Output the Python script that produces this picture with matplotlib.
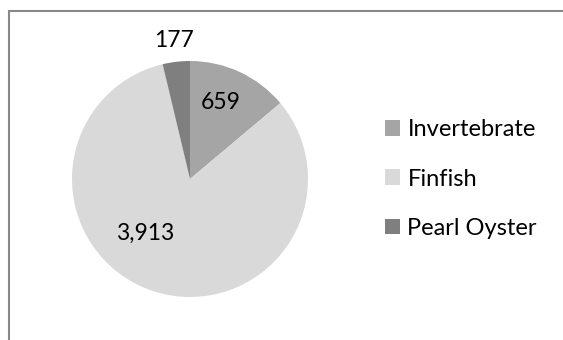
import matplotlib

matplotlib.use("Agg")

from matplotlib import pyplot as plt
from matplotlib.lines import Line2D
from matplotlib.patches import Patch
import numpy as np

categories = ["Invertebrate", "Finfish", "Pearl Oyster"]
counts = [659, 3913, 177]
colors = ["#a5a5a5", "#d9d9d9", "#7f7f7f"]

# label placement: radial distance (pie radius = 1) and angle shift from slice middle
label_dist = [0.70, 0.60, 1.18]
label_shift = [3, -21, 0]

plt.rcParams["font.family"] = ["Lato", "DejaVu Sans"]

W, H = 563, 340
fig = plt.figure(figsize=(W / 100, H / 100), dpi=100)

cx, cy, r = 190, 340 - 179, 118
ax = fig.add_axes([(cx - r) / W, (cy - r) / H, 2 * r / W, 2 * r / H])

wedges, _ = ax.pie(counts, colors=colors, startangle=90, counterclock=False,
                   wedgeprops=dict(linewidth=0))
ax.set_xlim(-1, 1)
ax.set_ylim(-1, 1)

for w, n, d, s in zip(wedges, counts, label_dist, label_shift):
    mid = np.deg2rad((w.theta1 + w.theta2) / 2 + s)
    ax.text(d * np.cos(mid), d * np.sin(mid), f"{n:,}", ha="center", va="center",
            fontsize=16.5, color="#000000")

handles = [Patch(facecolor=c, edgecolor="none") for c in colors]
fig.legend(handles, categories, loc="center left", bbox_to_anchor=(385 / W, 1 - 179 / H),
           frameon=False, fontsize=17, handlelength=0.65, handleheight=0.65,
           handletextpad=0.3, labelspacing=1.2, borderpad=0, borderaxespad=0)

# chart border, only top and left edges fall inside the image
fig.add_artist(Line2D([9 / W, 9 / W, 1.0], [0.0, 1 - 10.5 / H, 1 - 10.5 / H],
                      transform=fig.transFigure, color="#888888", linewidth=1.5,
                      solid_joinstyle="miter"))

fig.savefig("out.png", dpi=100)
